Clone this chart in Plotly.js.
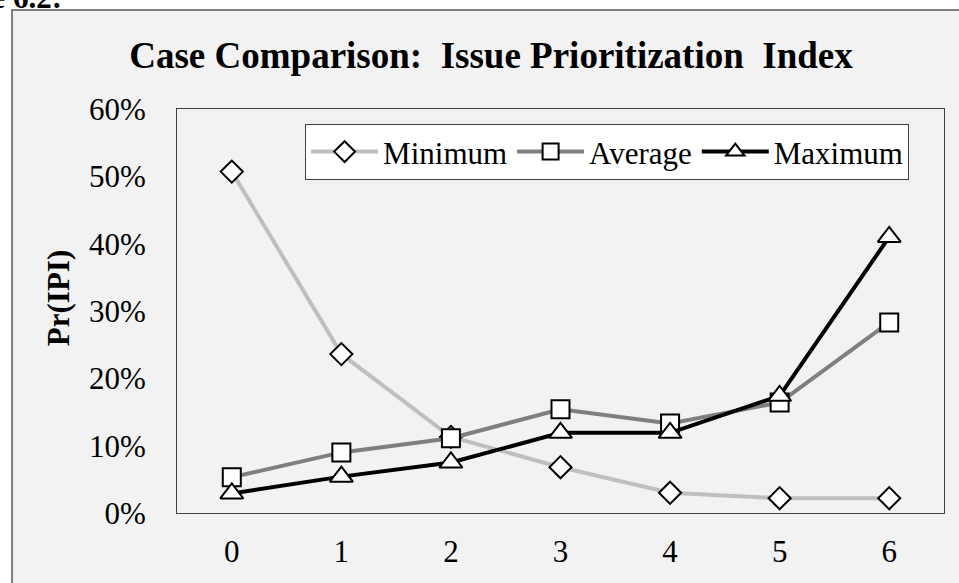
<!DOCTYPE html>
<html>
<head>
<meta charset="utf-8">
<script src="https://cdn.plot.ly/plotly-3.0.1.min.js"></script>
<style>html,body{margin:0;padding:0;background:#fff;}#chart{width:959px;height:583px;}</style>
</head>
<body>
<div id="chart"></div>
<script>
const categories = ["0", "1", "2", "3", "4", "5", "6"];
const minimumValues = [0.507, 0.236, 0.113, 0.068, 0.030, 0.022, 0.022];
const averageValues = [0.053, 0.090, 0.111, 0.154, 0.133, 0.164, 0.283];
const maximumValues = [0.029, 0.054, 0.075, 0.119, 0.119, 0.174, 0.410];
const seriesNames = ["Minimum", "Average", "Maximum"];
const yTickVals = [0, 0.1, 0.2, 0.3, 0.4, 0.5, 0.6];
const yTickText = ["0%", "10%", "20%", "30%", "40%", "50%", "60%"];

const serif = "Liberation Serif";

const traces = [
  {
    x: categories, y: minimumValues, name: seriesNames[0], type: "scatter", mode: "lines+markers",
    line: {color: "#bfbfbf", width: 4},
    marker: {symbol: "diamond", size: 17, color: "#ffffff", line: {color: "#000000", width: 2}}
  },
  {
    x: categories, y: averageValues, name: seriesNames[1], type: "scatter", mode: "lines+markers",
    line: {color: "#7f7f7f", width: 4},
    marker: {symbol: "square", size: 18, color: "#ffffff", line: {color: "#000000", width: 2}}
  },
  {
    x: categories, y: maximumValues, name: seriesNames[2], type: "scatter", mode: "lines+markers",
    line: {color: "#000000", width: 4},
    marker: {symbol: "triangle-up", size: 20, color: "#ffffff", line: {color: "#000000", width: 2}}
  }
];

const layout = {
  width: 959, height: 583,
  margin: {l: 177, r: 15, t: 109, b: 70},
  paper_bgcolor: "#ffffff",
  plot_bgcolor: "#ffffff",
  font: {family: serif, size: 31, color: "#000000"},
  title: {
    text: "<b>Case Comparison:  Issue Prioritization  Index</b>",
    font: {family: serif, size: 37, color: "#000000"},
    x: 0.512, xanchor: "center", y: 0.905, yanchor: "middle"
  },
  xaxis: {
    type: "category", range: [-0.5, 6.5],
    showline: true, linecolor: "#404040", linewidth: 1, mirror: true,
    showgrid: false, zeroline: false, ticks: "",
    ticklabelstandoff: 11,
    tickfont: {family: serif, size: 31, color: "#000000"}
  },
  yaxis: {
    range: [0, 0.6], tickvals: yTickVals, ticktext: yTickText,
    showline: true, linecolor: "#404040", linewidth: 1, mirror: true,
    showgrid: false, zeroline: false, ticks: "",
    ticklabelstandoff: 24,
    tickfont: {family: serif, size: 31, color: "#000000"}
  },
  showlegend: true,
  legend: {
    orientation: "h", x: 0.167, xanchor: "left", y: 0.963, yanchor: "top",
    bgcolor: "#ffffff", bordercolor: "#404040", borderwidth: 1,
    font: {family: serif, size: 31, color: "#000000"},
    itemwidth: 67, tracegroupgap: 0
  },
  shapes: [
    {
      type: "rect", xref: "paper", yref: "paper", layer: "below",
      x0: -0.2151, x1: 1.03, y0: -0.2, y1: 1.245,
      fillcolor: "#f2f2f2", line: {color: "#808080", width: 2}
    }
  ],
  annotations: [
    {
      text: "<b>Pr(IPI)</b>", xref: "paper", yref: "paper",
      x: -0.155, xanchor: "center", y: 0.532, yanchor: "middle", textangle: -90,
      showarrow: false, font: {family: serif, size: 31, color: "#000000"}
    },
    {
      text: "<b>Figure 6.2:</b>", xref: "paper", yref: "paper",
      x: -0.147, xanchor: "right", y: 1.277, yanchor: "middle",
      showarrow: false, font: {family: serif, size: 31, color: "#000000"}
    }
  ]
};

Plotly.newPlot("chart", traces, layout, {displayModeBar: false, staticPlot: true});
</script>
</body>
</html>
